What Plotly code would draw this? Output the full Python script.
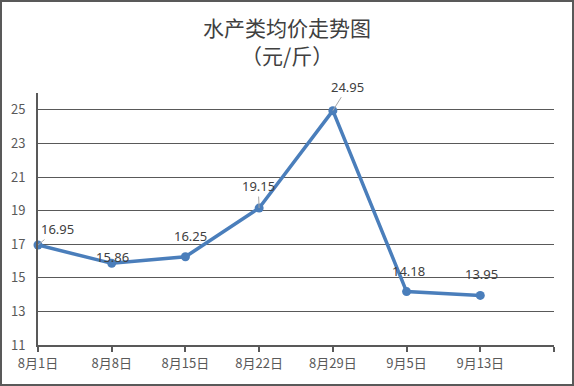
import plotly.graph_objects as go

categories = ["8月1日", "8月8日", "8月15日", "8月22日", "8月29日", "9月5日", "9月13日"]
prices = [16.95, 15.86, 16.25, 19.15, 24.95, 14.18, 13.95]
y_ticks = [11, 13, 15, 17, 19, 21, 23, 25]

x_idx = list(range(len(categories)))

fig = go.Figure()
fig.add_trace(go.Scatter(
    x=x_idx, y=prices, mode="lines+markers",
    line=dict(color="#4A7EBB", width=3.5),
    marker=dict(color="#4A7EBB", size=9),
    showlegend=False, hoverinfo="skip", cliponaxis=False,
))

label_cfg = [
    dict(arrow=True, ax=19, ay=-16),
    dict(arrow=False, xs=1, ys=6),
    dict(arrow=False, xs=5, ys=21),
    dict(arrow=True, ax=-1, ay=-22),
    dict(arrow=True, ax=15, ay=-24),
    dict(arrow=False, xs=2, ys=21),
    dict(arrow=False, xs=1, ys=21),
]
font_lbl = dict(family="Noto Sans, DejaVu Sans, sans-serif", size=13, color="#404040")
for xi, v, cfg in zip(x_idx, prices, label_cfg):
    txt = f"{v:.2f}"
    if cfg["arrow"]:
        fig.add_annotation(x=xi, y=v, text=txt, showarrow=True, ax=cfg["ax"], ay=cfg["ay"],
                           arrowhead=0, arrowwidth=1, arrowcolor="#A6A6A6", standoff=0,
                           font=font_lbl)
    else:
        fig.add_annotation(x=xi, y=v, text=txt, showarrow=False, xshift=cfg["xs"], yshift=cfg["ys"],
                           font=font_lbl)

W, H = 574, 386
L, R, T, B = 38, 20, 93, 41
pw, ph = W - L - R, H - T - B

def px_x(p):
    return (p - L) / pw

def px_y(p):
    return (H - B - p) / ph

title_font = dict(family="Noto Sans CJK SC, sans-serif", size=21, color="#404040")
fig.add_annotation(xref="paper", yref="paper", x=px_x(287), y=px_y(27), text="水产类均价走势图",
                   showarrow=False, font=title_font, xanchor="center", yanchor="middle")
fig.add_annotation(xref="paper", yref="paper", x=px_x(287), y=px_y(55), text="（元/斤）",
                   showarrow=False, font=title_font, xanchor="center", yanchor="middle")

fig.add_shape(type="rect", xref="paper", yref="paper",
              x0=px_x(1), x1=px_x(573), y0=px_y(385), y1=px_y(1),
              line=dict(color="#595959", width=2), fillcolor="rgba(0,0,0,0)", layer="above")

tick_font = dict(family="Noto Sans CJK SC, sans-serif", size=13, color="#595959")
fig.update_xaxes(
    range=[0, len(categories)], tickvals=list(range(len(categories) + 1)),
    ticktext=categories + [""],
    showgrid=False, zeroline=False, showline=True, linecolor="#595959", linewidth=2,
    ticks="outside", ticklen=5, tickwidth=2, tickcolor="#595959",
    tickfont=tick_font, automargin=False,
)
fig.update_yaxes(
    range=[11, 26], tickvals=y_ticks,
    showgrid=True, gridcolor="#595959", gridwidth=1,
    zeroline=False, showline=True, linecolor="#595959", linewidth=2,
    ticks="", ticklabelstandoff=8, tickfont=tick_font, automargin=False,
)
fig.update_layout(
    width=W, height=H, margin=dict(l=L, r=R, t=T, b=B, autoexpand=False),
    paper_bgcolor="white", plot_bgcolor="white",
)
fig.write_html("out.html", config={"displayModeBar": False},
               post_script="document.body.style.margin='0';document.body.style.padding='0';")
